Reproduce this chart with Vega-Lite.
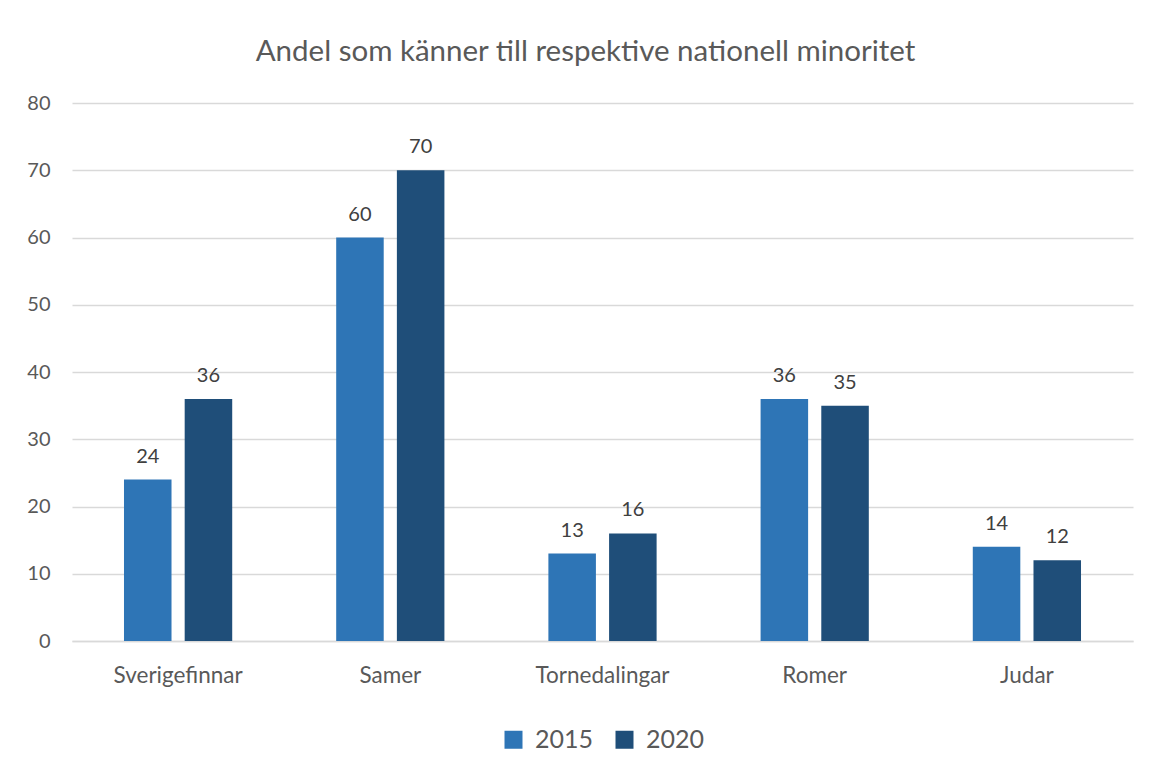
{
  "$schema": "https://vega.github.io/schema/vega-lite/v6.json",
  "width": 1061,
  "height": 538,
  "autosize": {"type": "none"},
  "padding": {"left": 72, "top": 103, "right": 18, "bottom": 132},
  "background": "white",
  "title": {
    "text": "Andel som känner till respektive nationell minoritet",
    "font": "Lato",
    "fontSize": 29.5,
    "fontWeight": "normal",
    "color": "#595959",
    "anchor": "middle",
    "offset": 26,
    "dx": -17
  },
  "data": {
    "values": [
      {"grupp": "Sverigefinnar", "år": "2015", "andel": 24},
      {"grupp": "Sverigefinnar", "år": "2020", "andel": 36},
      {"grupp": "Samer", "år": "2015", "andel": 60},
      {"grupp": "Samer", "år": "2020", "andel": 70},
      {"grupp": "Tornedalingar", "år": "2015", "andel": 13},
      {"grupp": "Tornedalingar", "år": "2020", "andel": 16},
      {"grupp": "Romer", "år": "2015", "andel": 36},
      {"grupp": "Romer", "år": "2020", "andel": 35},
      {"grupp": "Judar", "år": "2015", "andel": 14},
      {"grupp": "Judar", "år": "2020", "andel": 12}
    ]
  },
  "encoding": {
    "x": {
      "field": "grupp",
      "type": "nominal",
      "sort": null,
      "title": null,
      "scale": {"paddingInner": 0.49, "paddingOuter": 0.245},
      "axis": {
        "labelAngle": 0,
        "labelFont": "Lato",
        "labelFontSize": 22.5,
        "labelColor": "#595959",
        "labelPadding": 23,
        "ticks": false,
        "domainColor": "#d9d9d9",
        "domainWidth": 1.5
      }
    },
    "xOffset": {
      "field": "år",
      "type": "nominal",
      "scale": {"paddingInner": 0.217, "paddingOuter": 0}
    },
    "y": {
      "field": "andel",
      "type": "quantitative",
      "title": null,
      "scale": {"domain": [0, 80], "nice": false},
      "axis": {
        "values": [0, 10, 20, 30, 40, 50, 60, 70, 80],
        "labelFont": "Lato",
        "labelFontSize": 20,
        "labelColor": "#595959",
        "labelPadding": 22,
        "ticks": false,
        "domain": false,
        "gridColor": "#d9d9d9",
        "gridWidth": 1.5
      }
    }
  },
  "layer": [
    {
      "mark": {"type": "bar"},
      "encoding": {
        "color": {
          "field": "år",
          "type": "nominal",
          "scale": {"domain": ["2015", "2020"], "range": ["#2E75B6", "#1F4E79"]},
          "legend": {
            "title": null,
            "orient": "bottom",
            "direction": "horizontal",
            "symbolType": "square",
            "symbolSize": 324,
            "symbolStrokeWidth": 0,
            "labelFont": "Lato",
            "labelFontSize": 25,
            "labelColor": "#595959",
            "columnPadding": 18,
            "labelOffset": 9,
            "offset": 40
          }
        }
      }
    },
    {
      "mark": {
        "type": "text",
        "baseline": "bottom",
        "dy": -13,
        "font": "Lato",
        "fontSize": 20,
        "color": "#404040"
      },
      "encoding": {"text": {"field": "andel", "type": "quantitative"}}
    }
  ],
  "config": {
    "view": {"stroke": null},
    "legend": {"layout": {"bottom": {"anchor": "middle"}}}
  }
}
